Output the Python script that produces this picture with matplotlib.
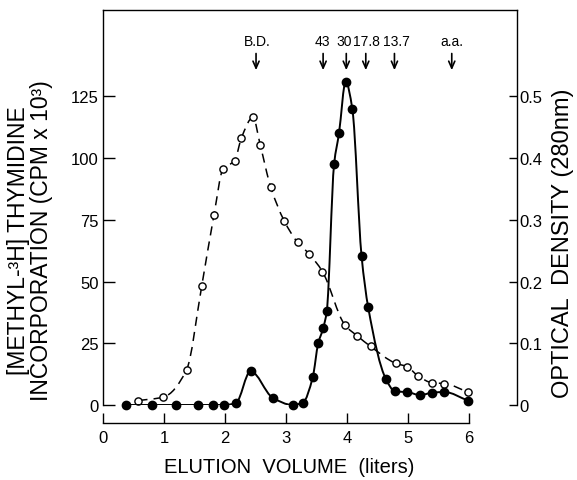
import numpy as np
import matplotlib
matplotlib.use("Agg")
import matplotlib.pyplot as plt
from matplotlib.path import Path
from matplotlib.patches import PathPatch

plt.rcParams['font.family'] = ['Liberation Sans', 'DejaVu Sans']

# open circles, dashed: thymidine incorporation (CPM x 10^3)
open_x = [0.58, 0.99, 1.37, 1.62, 1.82, 1.97, 2.16, 2.27, 2.46, 2.58, 2.75, 2.97,
          3.19, 3.38, 3.60, 3.97, 4.17, 4.39, 4.80, 4.99, 5.17, 5.40, 5.60, 5.99]
open_cpm = [1.8, 3.2, 14.2, 48.3, 77, 95.7, 99, 108.2, 116.5, 105.2, 88.3, 74.7,
            65.9, 61.2, 54, 32.3, 28, 23.7, 16.9, 15.5, 11.7, 9.0, 8.7, 5.2]

# filled circles, solid: optical density at 280 nm
filled_x = [0.37, 0.80, 1.19, 1.56, 1.81, 1.99, 2.18, 2.42, 2.78, 3.11, 3.28, 3.44,
            3.53, 3.61, 3.67, 3.79, 3.87, 3.98, 4.09, 4.24, 4.35, 4.64, 4.79, 4.99,
            5.20, 5.40, 5.60, 5.99]
filled_od = [0, 0, 0, 0, 0, 0, 0.003, 0.055, 0.012, 0, 0.004, 0.045,
             0.100, 0.124, 0.152, 0.390, 0.440, 0.524, 0.479, 0.242, 0.158, 0.042,
             0.022, 0.021, 0.016, 0.020, 0.021, 0.007]

# size markers along the top
marker_labels = ['B.D.', '43', '30', '17.8', '13.7', 'a.a.']
marker_pos = [2.51, 3.61, 3.99, 4.31, 4.78, 5.72]
label_pos = [2.53, 3.60, 3.95, 4.32, 4.81, 5.72]

left_ticks = [0, 25, 50, 75, 100, 125]
right_ticks = [0, 0.1, 0.2, 0.3, 0.4, 0.5]
right_ticklabels = ['0', '0.1', '0.2', '0.3', '0.4', '0.5']
x_ticks = [0, 1, 2, 3, 4, 5, 6]


def smooth_path(x, y):
    # hand drawn look: bezier curve through the points, pchip slopes (no overshoot)
    x = np.asarray(x, float)
    y = np.asarray(y, float)
    h = np.diff(x)
    d = np.diff(y) / h
    m = np.zeros_like(y)
    m[0], m[-1] = d[0], d[-1]
    for k in range(1, len(x) - 1):
        if d[k-1] * d[k] > 0:
            w1 = 2*h[k] + h[k-1]
            w2 = h[k] + 2*h[k-1]
            m[k] = (w1 + w2) / (w1/d[k-1] + w2/d[k])
    verts = [(x[0], y[0])]
    codes = [Path.MOVETO]
    for k in range(len(x) - 1):
        verts += [(x[k] + h[k]/3, y[k] + m[k]*h[k]/3),
                  (x[k+1] - h[k]/3, y[k+1] - m[k+1]*h[k]/3),
                  (x[k+1], y[k+1])]
        codes += [Path.CURVE4] * 3
    return Path(verts, codes)


W, H = 577, 481
fig = plt.figure(figsize=(W/100, H/100), dpi=100)
ax = fig.add_axes([103/W, 1-406/H, (517-103)/W, (406-11)/H])
ax2 = ax.twinx()

ax.set_xlim(0, 6.79)
ax.set_ylim(0, 160)
ax2.set_ylim(0, 0.64)

ax.add_patch(PathPatch(smooth_path(open_x, open_cpm), fill=False, ec='black',
                       lw=1.1, ls=(0, (6, 4)), zorder=2))
ax.plot(open_x, open_cpm, ls='none', marker='o', ms=5.2, mfc='white', mec='black',
        mew=1.0, clip_on=False, zorder=3)
ax2.add_patch(PathPatch(smooth_path(filled_x, filled_od), fill=False, ec='black',
                        lw=1.4, zorder=2))
ax2.plot(filled_x, filled_od, ls='none', marker='o', ms=6, mfc='black', mec='black',
         clip_on=False, zorder=4)

# spines
ax.spines['right'].set_visible(False)
ax.spines['bottom'].set_position(('outward', 13.3))
ax.spines['bottom'].set_bounds(0, 6)
for s in ['left', 'top', 'bottom']:
    ax.spines[s].set_linewidth(1.0)
for s in ['left', 'top', 'bottom']:
    ax2.spines[s].set_visible(False)
ax2.spines['right'].set_linewidth(1.0)

ax.set_xticks(x_ticks)
ax.set_yticks(left_ticks)
ax2.set_yticks(right_ticks)
ax2.set_yticklabels(right_ticklabels)
ax.tick_params(axis='x', direction='in', length=7, width=1, labelsize=12, pad=5)
ax.tick_params(axis='y', direction='in', length=8.5, width=1, labelsize=12, pad=3)
ax2.tick_params(axis='y', direction='in', length=6, width=1, labelsize=12, pad=1.5)

# arrows for size markers
for lab, xa, xl in zip(marker_labels, marker_pos, label_pos):
    ax.annotate('', xy=(xa, 134.5), xytext=(xa, 143.5),
                arrowprops=dict(arrowstyle='->,head_length=0.5,head_width=0.22',
                                lw=1.2, color='black'),
                annotation_clip=False)
    ax.text(xl, 147.5, lab, ha='center', va='center', fontsize=10)

fig.text(289/W, 1-468/H, 'ELUTION  VOLUME  (liters)', ha='center', va='center',
         fontsize=14.5)
fig.text(30/W, 1-241/H, '[METHYL-³H] THYMIDINE\nINCORPORATION (CPM x 10³)',
         rotation=90, ha='center', va='center', multialignment='center',
         linespacing=0.95, fontsize=16.5)
fig.text(563/W, 1-243/H, 'OPTICAL  DENSITY (280nm)', rotation=90,
         ha='center', va='center', fontsize=17)

fig.savefig('out.png', dpi=100)
